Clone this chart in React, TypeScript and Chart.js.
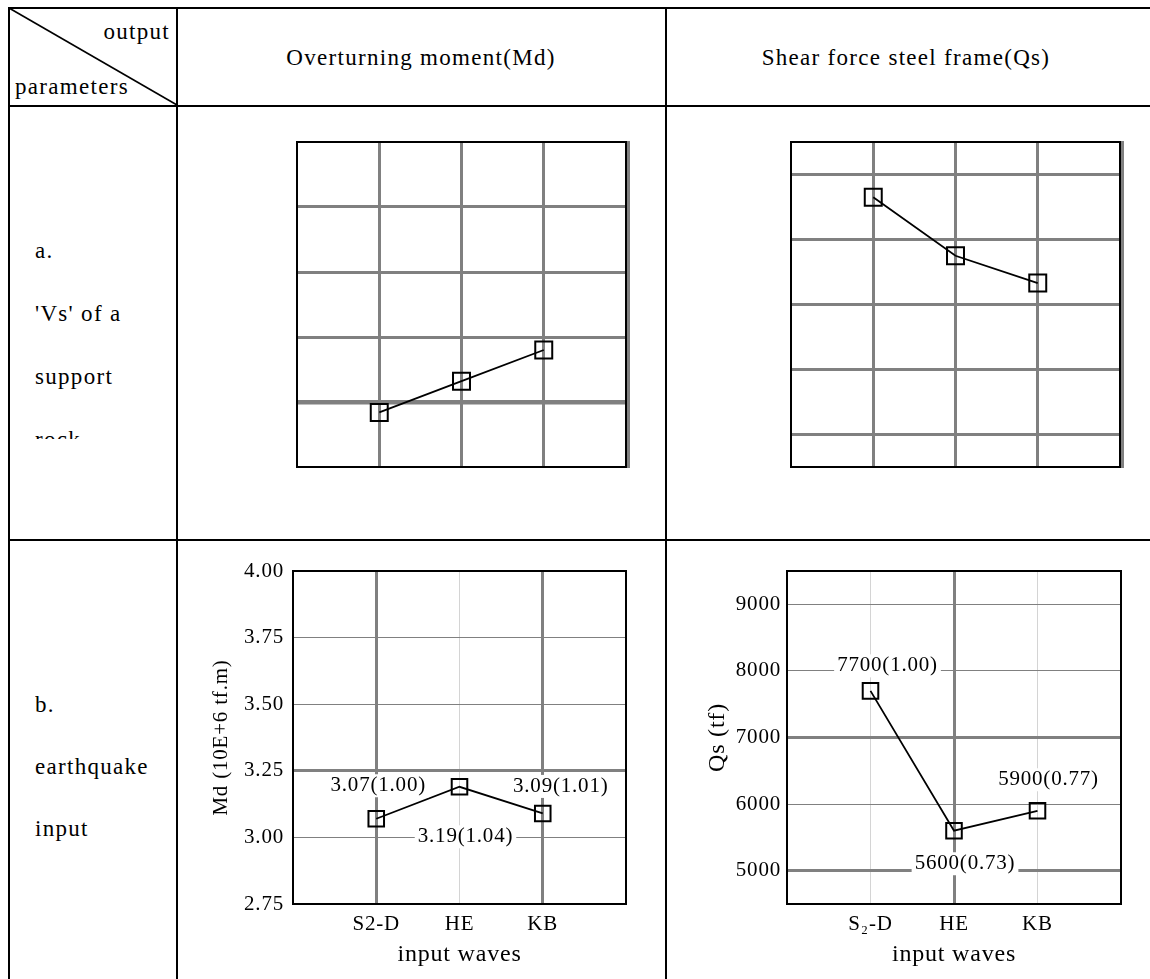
import React, { useEffect, useRef } from 'react';
import { Chart, registerables } from 'chart.js';

Chart.register(...registerables);

// ---------------- data ----------------
const mdCategories = ['S2-D', 'HE', 'KB'];
const qsCategories = ['S\u2082-D', 'HE', 'KB'];

// row a: 'Vs' of a support rock (no numbers printed)
const mdRockValues = [2.96, 3.08, 3.2];
const qsRockValues = [8650, 7750, 7330];

// row b: earthquake input
const mdInputValues = [3.07, 3.19, 3.09];
const qsInputValues = [7700, 5600, 5900];

const mdTicks = [2.75, 3.0, 3.25, 3.5, 3.75, 4.0];
const mdTickLabels = ['2.75', '3.00', '3.25', '3.50', '3.75', '4.00'];
const mdRockTicks = [3.0, 3.25, 3.5, 3.75];
const qsTicks = [5000, 6000, 7000, 8000, 9000];
const qsTickLabels = ['5000', '6000', '7000', '8000', '9000'];

const mdInputLabels = mdInputValues.map(
  (v) => `${v.toFixed(2)}(${(v / mdInputValues[0]).toFixed(2)})`
);
const qsInputLabels = qsInputValues.map(
  (v) => `${v}(${(v / qsInputValues[0]).toFixed(2)})`
);

// ---------------- styles ----------------
const SERIF = "'Liberation Serif', 'Times New Roman', serif";
const GRAY = '#808080';
const LIGHT = '#d4d4d4';
const CANVAS_SPACING = '0.8px';
const TICK_SIZE = 21;

type Box = { left: number; top: number; right: number; bottom: number };
type GridFn = (v: number) => [number, string];

interface Spec {
  box: Box;
  area: Box;
  categories: string[];
  values: number[];
  yMin: number;
  yMax: number;
  yTicks: number[];
  yTickLabels?: string[];
  yTickPadding?: number;
  showText: boolean;
  xGrid: GridFn;
  yGrid: GridFn;
  radius: number;
  shadow?: boolean;
  yTitle?: { text: string; size: number; center: number };
  xTitle?: { text: string; size: number; center: number };
  labels?: string[];
  labelOffsets?: number[][];
}

function makeConfig(s: Spec): any {
  const framePlugin = {
    id: 'frame',
    beforeDatasetsDraw(chart: any) {
      const { ctx, chartArea: a } = chart;
      ctx.save();
      if (s.shadow) {
        ctx.fillStyle = GRAY;
        ctx.fillRect(a.right + 1, a.top - 1, 3, a.bottom - a.top + 2);
      }
      ctx.strokeStyle = '#000';
      ctx.lineWidth = 2;
      ctx.strokeRect(a.left, a.top, a.right - a.left, a.bottom - a.top);
      ctx.restore();
    },
  };
  const spacingPlugin = {
    id: 'spacing',
    beforeDraw(chart: any) {
      chart.ctx.letterSpacing = CANVAS_SPACING;
    },
  };
  const labelPlugin = {
    id: 'pointLabels',
    afterDatasetsDraw(chart: any) {
      if (!s.labels || !s.labelOffsets) return;
      const meta = chart.getDatasetMeta(0);
      const ctx = chart.ctx;
      const size = TICK_SIZE;
      ctx.save();
      ctx.font = `${size}px ${SERIF}`;
      ctx.letterSpacing = CANVAS_SPACING;
      ctx.textAlign = 'center';
      ctx.textBaseline = 'middle';
      meta.data.forEach((pt: any, i: number) => {
        const [dx, dy] = s.labelOffsets![i];
        const x = pt.x + dx;
        const y = pt.y + dy;
        const t = s.labels![i];
        const w = ctx.measureText(t).width;
        ctx.fillStyle = '#fff';
        ctx.fillRect(x - w / 2 - 3, y - size / 2 - 1, w + 6, size + 2);
        ctx.fillStyle = '#000';
        ctx.fillText(t, x, y);
      });
      ctx.restore();
    },
  };

  const yTitle = s.yTitle
    ? {
        display: true,
        text: s.yTitle.text,
        color: '#000',
        font: { size: s.yTitle.size, family: SERIF, lineHeight: 1.2 },
        padding: { top: s.yTitle.center - s.box.left - (s.yTitle.size * 1.2) / 2, bottom: 0 },
      }
    : { display: false };
  const xTitle = s.xTitle
    ? {
        display: true,
        text: s.xTitle.text,
        color: '#000',
        font: { size: s.xTitle.size, family: SERIF, lineHeight: 1.2 },
        padding: { top: 0, bottom: s.box.bottom - s.xTitle.center - (s.xTitle.size * 1.2) / 2 },
      }
    : { display: false };

  return {
    type: 'line',
    data: {
      datasets: [
        {
          data: s.values.map((v, i) => ({ x: i + 1, y: v })),
          borderColor: '#000',
          borderWidth: 1.8,
          tension: 0,
          fill: false,
          pointStyle: 'rect',
          pointRadius: s.radius,
          pointBorderWidth: 2,
          pointBorderColor: '#000',
          pointBackgroundColor: 'rgba(0,0,0,0)',
          clip: false,
        },
      ],
    },
    options: {
      responsive: false,
      maintainAspectRatio: false,
      animation: false,
      events: [],
      devicePixelRatio: 1,
      layout: {
        padding: {
          left: 0,
          top: s.area.top - s.box.top,
          right: s.box.right - s.area.right,
          bottom: 0,
        },
      },
      plugins: { legend: { display: false }, tooltip: { enabled: false } },
      scales: {
        x: {
          type: 'linear',
          min: 0,
          max: s.categories.length + 1,
          afterBuildTicks: (sc: any) => {
            sc.ticks = s.categories.map((_, i) => ({ value: i + 1 }));
          },
          afterFit: (sc: any) => {
            sc.height = s.box.bottom - s.area.bottom;
          },
          border: { display: false },
          grid: {
            drawTicks: false,
            lineWidth: (c: any) => (c.tick ? s.xGrid(c.tick.value)[0] : 0),
            color: (c: any) => (c.tick ? s.xGrid(c.tick.value)[1] : GRAY),
          },
          ticks: {
            display: s.showText,
            autoSkip: false,
            maxRotation: 0,
            padding: 8,
            color: '#000',
            font: { size: TICK_SIZE, family: SERIF },
            callback: (v: any) => s.categories[Math.round(v) - 1] ?? '',
          },
          title: xTitle,
        },
        y: {
          type: 'linear',
          min: s.yMin,
          max: s.yMax,
          afterBuildTicks: (sc: any) => {
            sc.ticks = s.yTicks.map((v) => ({ value: v }));
          },
          afterFit: (sc: any) => {
            sc.width = s.area.left - s.box.left;
          },
          border: { display: false },
          grid: {
            drawTicks: false,
            lineWidth: (c: any) => (c.tick ? s.yGrid(c.tick.value)[0] : 0),
            color: (c: any) => (c.tick ? s.yGrid(c.tick.value)[1] : GRAY),
          },
          ticks: {
            display: s.showText,
            padding: s.yTickPadding ?? 8,
            color: '#000',
            font: { size: TICK_SIZE, family: SERIF },
            callback: (v: any) => {
              const idx = s.yTicks.findIndex((t) => Math.abs(t - v) < 1e-9);
              return s.yTickLabels && idx >= 0 ? s.yTickLabels[idx] : '';
            },
          },
          title: yTitle,
        },
      },
    },
    plugins: [spacingPlugin, framePlugin, labelPlugin],
  };
}

function LineChart({ spec }: { spec: Spec }) {
  const ref = useRef<HTMLCanvasElement | null>(null);
  useEffect(() => {
    if (!ref.current) return;
    const chart = new Chart(ref.current, makeConfig(spec));
    return () => chart.destroy();
  }, [spec]);
  const w = spec.box.right - spec.box.left;
  const h = spec.box.bottom - spec.box.top;
  return (
    <canvas
      ref={ref}
      width={w}
      height={h}
      style={{ position: 'absolute', left: spec.box.left, top: spec.box.top, width: w, height: h }}
    />
  );
}

// ---------------- chart specs ----------------
const mdRockSpec: Spec = {
  box: { left: 283, top: 128, right: 640, bottom: 481 },
  area: { left: 293, top: 138, right: 626, bottom: 471 },
  categories: mdCategories,
  values: mdRockValues,
  yMin: 2.75,
  yMax: 4.0,
  yTicks: mdRockTicks,
  showText: false,
  xGrid: () => [3, GRAY],
  yGrid: (v) => (Math.abs(v - 3.0) < 1e-9 ? [4.5, GRAY] : [3, GRAY]),
  radius: 12,
  shadow: true,
};

const qsRockSpec: Spec = {
  box: { left: 777, top: 128, right: 1140, bottom: 481 },
  area: { left: 787, top: 138, right: 1120, bottom: 471 },
  categories: qsCategories,
  values: qsRockValues,
  yMin: 4500,
  yMax: 9500,
  yTicks: qsTicks,
  showText: false,
  xGrid: () => [3, GRAY],
  yGrid: () => [3, GRAY],
  radius: 12,
  shadow: true,
};

const mdInputSpec: Spec = {
  box: { left: 190, top: 544, right: 640, bottom: 979 },
  area: { left: 293, top: 571, right: 626, bottom: 904 },
  categories: mdCategories,
  values: mdInputValues,
  yMin: 2.75,
  yMax: 4.0,
  yTicks: mdTicks,
  yTickLabels: mdTickLabels,
  yTickPadding: 9,
  showText: true,
  xGrid: (v) => (v === 2 ? [1, LIGHT] : [3, GRAY]),
  yGrid: (v) =>
    Math.abs(v - 3.25) < 1e-9
      ? [3, GRAY]
      : Math.abs(v - 2.75) < 1e-9 || Math.abs(v - 4.0) < 1e-9
      ? [0, GRAY]
      : [1, GRAY],
  radius: 11,
  yTitle: { text: 'Md (10E+6 tf.m)', size: 21, center: 221 },
  xTitle: { text: 'input waves', size: 24, center: 955 },
  labels: mdInputLabels,
  labelOffsets: [
    [2, -33],
    [6, 50],
    [18, -27],
  ],
};

const qsInputSpec: Spec = {
  box: { left: 680, top: 544, right: 1150, bottom: 979 },
  area: { left: 787, top: 571, right: 1121, bottom: 904 },
  categories: qsCategories,
  values: qsInputValues,
  yMin: 4500,
  yMax: 9500,
  yTicks: qsTicks,
  yTickLabels: qsTickLabels,
  yTickPadding: 6,
  showText: true,
  xGrid: (v) => (v === 2 ? [3, GRAY] : [1, LIGHT]),
  yGrid: (v) => (v === 7000 || v === 5000 ? [3, GRAY] : [1, GRAY]),
  radius: 11,
  yTitle: { text: 'Qs (tf)', size: 24, center: 718 },
  xTitle: { text: 'input waves', size: 24, center: 955 },
  labels: qsInputLabels,
  labelOffsets: [
    [17, -25],
    [11, 33],
    [11, -31],
  ],
};

// ---------------- table ----------------
const rowALines = ['a.', "'Vs' of a", 'support', 'rock'];
const rowBLines = ['b.', 'earthquake', 'input'];

const text: React.CSSProperties = {
  position: 'absolute',
  fontFamily: SERIF,
  fontSize: 23,
  letterSpacing: '1.3px',
  lineHeight: '26px',
  whiteSpace: 'nowrap',
  color: '#000',
};

function HLine({ x1, x2, y }: { x1: number; x2: number; y: number }) {
  return <div style={{ position: 'absolute', left: x1, top: y, width: x2 - x1, height: 2, background: '#000' }} />;
}
function VLine({ x, y1, y2 }: { x: number; y1: number; y2: number }) {
  return <div style={{ position: 'absolute', left: x, top: y1, width: 2, height: y2 - y1, background: '#000' }} />;
}

export default function App() {
  return (
    <div
      style={{
        position: 'fixed',
        left: 0,
        top: 0,
        width: 1150,
        height: 979,
        overflow: 'hidden',
        background: '#fff',
      }}
    >
      {/* table grid */}
      <HLine x1={8} x2={1150} y={7} />
      <HLine x1={8} x2={1150} y={105} />
      <HLine x1={8} x2={1150} y={539} />
      <VLine x={8} y1={7} y2={979} />
      <VLine x={176} y1={7} y2={979} />
      <VLine x={665} y1={7} y2={979} />
      <svg style={{ position: 'absolute', left: 0, top: 0 }} width={200} height={120}>
        <line x1={9} y1={8} x2={177} y2={105} stroke="#000" strokeWidth={1.6} />
      </svg>

      {/* header */}
      <div style={{ ...text, left: 10, top: 19.2, width: 160, textAlign: 'right' }}>output</div>
      <div style={{ ...text, left: 15, top: 74.2 }}>parameters</div>
      <div style={{ ...text, left: 177, top: 44.7, width: 488, textAlign: 'center' }}>
        Overturning moment(Md)
      </div>
      <div style={{ ...text, left: 666, top: 44.7, width: 480, textAlign: 'center' }}>
        Shear force steel frame(Qs)
      </div>

      {/* row headers */}
      <div style={{ ...text, left: 35, top: 218.7, height: 220, overflow: 'hidden', lineHeight: '63px' }}>
        {rowALines.map((t, i) => (
          <div key={i}>{t}</div>
        ))}
      </div>
      <div style={{ ...text, left: 35, top: 674.2, height: 166.8, overflow: 'hidden', lineHeight: '62px' }}>
        {rowBLines.map((t, i) => (
          <div key={i}>{t}</div>
        ))}
      </div>

      {/* charts */}
      <LineChart spec={mdRockSpec} />
      <LineChart spec={qsRockSpec} />
      <LineChart spec={mdInputSpec} />
      <LineChart spec={qsInputSpec} />
    </div>
  );
}
